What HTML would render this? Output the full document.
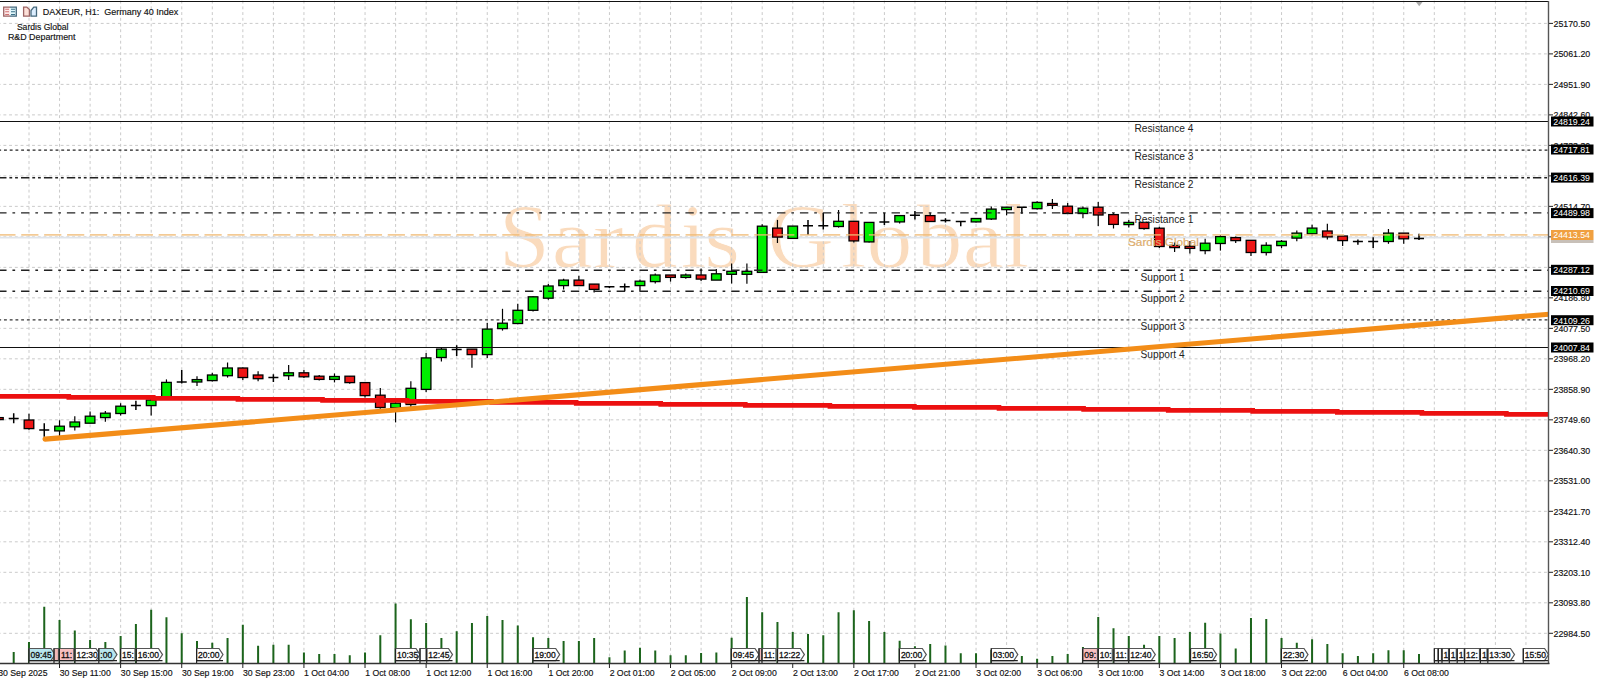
<!DOCTYPE html><html><head><meta charset="utf-8"><style>html,body{margin:0;padding:0;background:#fff;width:1600px;height:680px;overflow:hidden}svg{display:block}text{font-family:"Liberation Sans",sans-serif}</style></head><body>
<svg width="1600" height="680" viewBox="0 0 1600 680">
<rect width="1600" height="680" fill="#fff"/>
<g font-size="92" fill="#fadbbd" stroke="#fff" stroke-width="0.9" style="font-family:'Liberation Serif',serif"><text style="font-family:'Liberation Serif',serif" transform="translate(498.8 267.3) scale(1 1)">S</text><text style="font-family:'Liberation Serif',serif" transform="translate(551.8 267.3) scale(1 0.91)">a</text><text style="font-family:'Liberation Serif',serif" transform="translate(593 267.3) scale(1 0.91)">r</text><text style="font-family:'Liberation Serif',serif" transform="translate(631.7 267.3) scale(1 1)">d</text><text style="font-family:'Liberation Serif',serif" transform="translate(680.4 267.3) scale(1 1)">i</text><text style="font-family:'Liberation Serif',serif" transform="translate(704.2 267.3) scale(1 0.91)">s</text><text style="font-family:'Liberation Serif',serif" transform="translate(767.4 267.3) scale(1 1)">G</text><text style="font-family:'Liberation Serif',serif" transform="translate(840.8 267.3) scale(1 1)">l</text><text style="font-family:'Liberation Serif',serif" transform="translate(866.5 267.3) scale(1 0.91)">o</text><text style="font-family:'Liberation Serif',serif" transform="translate(916.5 267.3) scale(1 1)">b</text><text style="font-family:'Liberation Serif',serif" transform="translate(962.7 267.3) scale(1 0.91)">a</text><text style="font-family:'Liberation Serif',serif" transform="translate(1004 267.3) scale(1 1)">l</text></g>
<path d="M29.00 0.66V663M59.55 0.66V663M90.10 0.66V663M120.65 0.66V663M151.20 0.66V663M181.75 0.66V663M212.30 0.66V663M242.85 0.66V663M273.40 0.66V663M303.95 0.66V663M334.50 0.66V663M365.05 0.66V663M395.60 0.66V663M426.15 0.66V663M456.70 0.66V663M487.25 0.66V663M517.80 0.66V663M548.35 0.66V663M578.90 0.66V663M609.45 0.66V663M640.00 0.66V663M670.55 0.66V663M701.10 0.66V663M731.65 0.66V663M762.20 0.66V663M792.75 0.66V663M823.30 0.66V663M853.85 0.66V663M884.40 0.66V663M914.95 0.66V663M945.50 0.66V663M976.05 0.66V663M1006.60 0.66V663M1037.15 0.66V663M1067.70 0.66V663M1098.25 0.66V663M1128.80 0.66V663M1159.35 0.66V663M1189.90 0.66V663M1220.45 0.66V663M1251.00 0.66V663M1281.55 0.66V663M1312.10 0.66V663M1342.65 0.66V663M1373.20 0.66V663M1403.75 0.66V663M1434.30 0.66V663M1464.85 0.66V663M1495.40 0.66V663M1525.95 0.66V663" stroke="#cacaca" stroke-width="1" stroke-dasharray="2.9 2.827" fill="none"/>
<path d="M0 23.40H1548M0 53.89H1548M0 84.39H1548M0 114.88H1548M0 145.38H1548M0 175.88H1548M0 206.37H1548M0 236.87H1548M0 267.36H1548M0 297.85H1548M0 328.35H1548M0 358.84H1548M0 389.34H1548M0 419.83H1548M0 450.33H1548M0 480.82H1548M0 511.32H1548M0 541.81H1548M0 572.31H1548M0 602.80H1548M0 633.30H1548" stroke="#cacaca" stroke-width="1" stroke-dasharray="2.9 2.827" stroke-dashoffset="2.33" fill="none"/>
<path d="M0 237.6H1548" stroke="#dfe4ea" stroke-width="1.6" fill="none"/>
<path d="M-1.58 417.6V419.6" stroke="#000" stroke-width="1.2"/><rect x="-6.38" y="417.6" width="9.6" height="2.00" fill="#ee1616" stroke="#000" stroke-width="1.3"/><path d="M13.70 413.2V423.2M8.70 418.5H18.70" stroke="#000" stroke-width="1.5" fill="none"/><path d="M28.98 413.8V429.7" stroke="#000" stroke-width="1.2"/><rect x="24.18" y="420.0" width="9.6" height="8.60" fill="#ee1616" stroke="#000" stroke-width="1.3"/><path d="M44.25 423.2V436.8M39.25 430.0H49.25" stroke="#000" stroke-width="1.5" fill="none"/><path d="M59.53 420.3V436.0" stroke="#000" stroke-width="1.2"/><rect x="54.73" y="426.2" width="9.6" height="4.70" fill="#00ee00" stroke="#000" stroke-width="1.3"/><path d="M74.80 416.2V430.6" stroke="#000" stroke-width="1.2"/><rect x="70.00" y="422.0" width="9.6" height="4.80" fill="#00ee00" stroke="#000" stroke-width="1.3"/><path d="M90.08 411.5V423.2" stroke="#000" stroke-width="1.2"/><rect x="85.28" y="416.2" width="9.6" height="7.00" fill="#00ee00" stroke="#000" stroke-width="1.3"/><path d="M105.35 411.0V421.8" stroke="#000" stroke-width="1.2"/><rect x="100.55" y="413.2" width="9.6" height="4.40" fill="#00ee00" stroke="#000" stroke-width="1.3"/><path d="M120.62 403.2V415.4" stroke="#000" stroke-width="1.2"/><rect x="115.83" y="406.2" width="9.6" height="7.30" fill="#00ee00" stroke="#000" stroke-width="1.3"/><path d="M135.90 400.7V410.0M130.90 405.6H140.90" stroke="#000" stroke-width="1.5" fill="none"/><path d="M151.17 399.0V415.4" stroke="#000" stroke-width="1.2"/><rect x="146.37" y="400.0" width="9.6" height="5.60" fill="#00ee00" stroke="#000" stroke-width="1.3"/><path d="M166.45 379.4V397.0" stroke="#000" stroke-width="1.2"/><rect x="161.65" y="382.4" width="9.6" height="14.60" fill="#00ee00" stroke="#000" stroke-width="1.3"/><path d="M181.72 369.9V383.5M176.72 382.0H186.72" stroke="#000" stroke-width="1.5" fill="none"/><path d="M197.00 376.2V386.0" stroke="#000" stroke-width="1.2"/><rect x="192.20" y="379.6" width="9.6" height="2.40" fill="#00ee00" stroke="#000" stroke-width="1.3"/><path d="M212.28 372.8V381.6" stroke="#000" stroke-width="1.2"/><rect x="207.47" y="375.0" width="9.6" height="5.60" fill="#00ee00" stroke="#000" stroke-width="1.3"/><path d="M227.55 362.5V377.6" stroke="#000" stroke-width="1.2"/><rect x="222.75" y="368.0" width="9.6" height="7.70" fill="#00ee00" stroke="#000" stroke-width="1.3"/><path d="M242.82 367.4V380.1" stroke="#000" stroke-width="1.2"/><rect x="238.02" y="368.0" width="9.6" height="9.50" fill="#ee1616" stroke="#000" stroke-width="1.3"/><path d="M258.10 371.3V381.2" stroke="#000" stroke-width="1.2"/><rect x="253.30" y="375.0" width="9.6" height="3.70" fill="#ee1616" stroke="#000" stroke-width="1.3"/><path d="M273.38 374.3V382.0M268.38 377.6H278.38" stroke="#000" stroke-width="1.5" fill="none"/><path d="M288.65 365.0V380.1" stroke="#000" stroke-width="1.2"/><rect x="283.85" y="372.8" width="9.6" height="2.90" fill="#00ee00" stroke="#000" stroke-width="1.3"/><path d="M303.93 369.9V378.0" stroke="#000" stroke-width="1.2"/><rect x="299.12" y="372.8" width="9.6" height="4.00" fill="#ee1616" stroke="#000" stroke-width="1.3"/><path d="M319.20 375.0V380.6" stroke="#000" stroke-width="1.2"/><rect x="314.40" y="376.2" width="9.6" height="3.20" fill="#ee1616" stroke="#000" stroke-width="1.3"/><path d="M334.48 373.5V382.4" stroke="#000" stroke-width="1.2"/><rect x="329.68" y="376.5" width="9.6" height="2.90" fill="#00ee00" stroke="#000" stroke-width="1.3"/><path d="M349.75 376.0V383.8" stroke="#000" stroke-width="1.2"/><rect x="344.95" y="376.2" width="9.6" height="6.40" fill="#ee1616" stroke="#000" stroke-width="1.3"/><path d="M365.02 382.6V397.4" stroke="#000" stroke-width="1.2"/><rect x="360.22" y="382.6" width="9.6" height="13.00" fill="#ee1616" stroke="#000" stroke-width="1.3"/><path d="M380.30 388.0V408.8" stroke="#000" stroke-width="1.2"/><rect x="375.50" y="395.2" width="9.6" height="12.30" fill="#ee1616" stroke="#000" stroke-width="1.3"/><path d="M395.57 400.0V422.4" stroke="#000" stroke-width="1.2"/><rect x="390.77" y="403.2" width="9.6" height="4.60" fill="#00ee00" stroke="#000" stroke-width="1.3"/><path d="M410.85 381.3V411.1" stroke="#000" stroke-width="1.2"/><rect x="406.05" y="388.3" width="9.6" height="16.20" fill="#00ee00" stroke="#000" stroke-width="1.3"/><path d="M426.12 353.0V392.0" stroke="#000" stroke-width="1.2"/><rect x="421.32" y="357.9" width="9.6" height="31.50" fill="#00ee00" stroke="#000" stroke-width="1.3"/><path d="M441.40 347.6V361.5" stroke="#000" stroke-width="1.2"/><rect x="436.60" y="349.1" width="9.6" height="8.40" fill="#00ee00" stroke="#000" stroke-width="1.3"/><path d="M456.68 345.3V356.0M451.68 349.4H461.68" stroke="#000" stroke-width="1.5" fill="none"/><path d="M471.95 349.0V367.8" stroke="#000" stroke-width="1.2"/><rect x="467.15" y="349.1" width="9.6" height="5.50" fill="#ee1616" stroke="#000" stroke-width="1.3"/><path d="M487.23 323.0V358.0" stroke="#000" stroke-width="1.2"/><rect x="482.43" y="329.1" width="9.6" height="25.50" fill="#00ee00" stroke="#000" stroke-width="1.3"/><path d="M502.50 308.8V330.6" stroke="#000" stroke-width="1.2"/><rect x="497.70" y="323.2" width="9.6" height="5.40" fill="#00ee00" stroke="#000" stroke-width="1.3"/><path d="M517.77 303.7V324.3" stroke="#000" stroke-width="1.2"/><rect x="512.98" y="310.3" width="9.6" height="13.20" fill="#00ee00" stroke="#000" stroke-width="1.3"/><path d="M533.05 296.3V311.5" stroke="#000" stroke-width="1.2"/><rect x="528.25" y="296.8" width="9.6" height="13.50" fill="#00ee00" stroke="#000" stroke-width="1.3"/><path d="M548.33 284.1V299.7" stroke="#000" stroke-width="1.2"/><rect x="543.53" y="286.0" width="9.6" height="12.20" fill="#00ee00" stroke="#000" stroke-width="1.3"/><path d="M563.60 278.7V289.4" stroke="#000" stroke-width="1.2"/><rect x="558.80" y="280.1" width="9.6" height="5.50" fill="#00ee00" stroke="#000" stroke-width="1.3"/><path d="M578.88 275.7V286.0" stroke="#000" stroke-width="1.2"/><rect x="574.08" y="280.1" width="9.6" height="5.50" fill="#ee1616" stroke="#000" stroke-width="1.3"/><path d="M594.15 284.0V292.6" stroke="#000" stroke-width="1.2"/><rect x="589.35" y="284.1" width="9.6" height="5.30" fill="#ee1616" stroke="#000" stroke-width="1.3"/><path d="M609.43 286.0V288.0M604.43 286.8H614.43" stroke="#000" stroke-width="1.5" fill="none"/><path d="M624.70 283.5V291.2M619.70 286.8H629.70" stroke="#000" stroke-width="1.5" fill="none"/><path d="M639.98 279.4V291.5" stroke="#000" stroke-width="1.2"/><rect x="635.18" y="281.2" width="9.6" height="4.40" fill="#00ee00" stroke="#000" stroke-width="1.3"/><path d="M655.25 273.5V283.5" stroke="#000" stroke-width="1.2"/><rect x="650.45" y="275.0" width="9.6" height="6.60" fill="#00ee00" stroke="#000" stroke-width="1.3"/><path d="M670.53 275.0V281.6" stroke="#000" stroke-width="1.2"/><rect x="665.73" y="275.0" width="9.6" height="2.40" fill="#ee1616" stroke="#000" stroke-width="1.3"/><path d="M685.80 273.5V278.7" stroke="#000" stroke-width="1.2"/><rect x="681.00" y="275.0" width="9.6" height="2.40" fill="#00ee00" stroke="#000" stroke-width="1.3"/><path d="M701.08 268.4V280.9" stroke="#000" stroke-width="1.2"/><rect x="696.28" y="275.0" width="9.6" height="4.10" fill="#ee1616" stroke="#000" stroke-width="1.3"/><path d="M716.35 269.1V280.1" stroke="#000" stroke-width="1.2"/><rect x="711.55" y="273.8" width="9.6" height="6.30" fill="#00ee00" stroke="#000" stroke-width="1.3"/><path d="M731.63 263.5V283.5" stroke="#000" stroke-width="1.2"/><rect x="726.83" y="271.3" width="9.6" height="3.00" fill="#00ee00" stroke="#000" stroke-width="1.3"/><path d="M746.90 263.5V283.8" stroke="#000" stroke-width="1.2"/><rect x="742.10" y="271.3" width="9.6" height="3.00" fill="#00ee00" stroke="#000" stroke-width="1.3"/><path d="M762.18 224.3V272.4" stroke="#000" stroke-width="1.2"/><rect x="757.38" y="226.2" width="9.6" height="46.20" fill="#00ee00" stroke="#000" stroke-width="1.3"/><path d="M777.45 219.9V243.0" stroke="#000" stroke-width="1.2"/><rect x="772.65" y="228.1" width="9.6" height="9.00" fill="#ee1616" stroke="#000" stroke-width="1.3"/><path d="M792.73 226.0V238.5" stroke="#000" stroke-width="1.2"/><rect x="787.93" y="226.1" width="9.6" height="12.30" fill="#00ee00" stroke="#000" stroke-width="1.3"/><path d="M808.00 219.9V235.0M803.00 225.7H813.00" stroke="#000" stroke-width="1.5" fill="none"/><path d="M823.28 212.9V229.4M818.28 225.7H828.28" stroke="#000" stroke-width="1.5" fill="none"/><path d="M838.55 210.0V227.6" stroke="#000" stroke-width="1.2"/><rect x="833.75" y="221.3" width="9.6" height="5.20" fill="#00ee00" stroke="#000" stroke-width="1.3"/><path d="M853.83 221.0V242.6" stroke="#000" stroke-width="1.2"/><rect x="849.03" y="221.3" width="9.6" height="19.60" fill="#ee1616" stroke="#000" stroke-width="1.3"/><path d="M869.10 222.0V242.6" stroke="#000" stroke-width="1.2"/><rect x="864.30" y="222.4" width="9.6" height="19.50" fill="#00ee00" stroke="#000" stroke-width="1.3"/><path d="M884.38 213.1V225.0M879.38 221.9H889.38" stroke="#000" stroke-width="1.5" fill="none"/><path d="M899.65 215.0V223.4" stroke="#000" stroke-width="1.2"/><rect x="894.85" y="215.6" width="9.6" height="6.30" fill="#00ee00" stroke="#000" stroke-width="1.3"/><path d="M914.93 210.9V219.4M909.93 215.3H919.93" stroke="#000" stroke-width="1.5" fill="none"/><path d="M930.20 213.1V221.5" stroke="#000" stroke-width="1.2"/><rect x="925.40" y="215.6" width="9.6" height="5.90" fill="#ee1616" stroke="#000" stroke-width="1.3"/><path d="M945.48 218.2V222.6M940.48 220.4H950.48" stroke="#000" stroke-width="1.5" fill="none"/><path d="M960.75 221.6V226.3M955.75 221.6H965.75" stroke="#000" stroke-width="1.5" fill="none"/><path d="M976.03 218.0V222.6" stroke="#000" stroke-width="1.2"/><rect x="971.23" y="218.5" width="9.6" height="3.40" fill="#00ee00" stroke="#000" stroke-width="1.3"/><path d="M991.30 206.5V220.0" stroke="#000" stroke-width="1.2"/><rect x="986.50" y="209.1" width="9.6" height="9.90" fill="#00ee00" stroke="#000" stroke-width="1.3"/><path d="M1006.58 207.0V215.3" stroke="#000" stroke-width="1.2"/><rect x="1001.78" y="207.2" width="9.6" height="2.40" fill="#00ee00" stroke="#000" stroke-width="1.3"/><path d="M1021.85 207.0V213.8M1016.85 207.2H1026.85" stroke="#000" stroke-width="1.5" fill="none"/><path d="M1037.12 201.3V209.4" stroke="#000" stroke-width="1.2"/><rect x="1032.33" y="202.4" width="9.6" height="6.30" fill="#00ee00" stroke="#000" stroke-width="1.3"/><path d="M1052.40 199.1V209.1" stroke="#000" stroke-width="1.2"/><rect x="1047.60" y="203.5" width="9.6" height="1.80" fill="#ee1616" stroke="#000" stroke-width="1.3"/><path d="M1067.68 203.0V213.5" stroke="#000" stroke-width="1.2"/><rect x="1062.88" y="206.2" width="9.6" height="7.30" fill="#ee1616" stroke="#000" stroke-width="1.3"/><path d="M1082.95 206.5V218.2" stroke="#000" stroke-width="1.2"/><rect x="1078.15" y="208.2" width="9.6" height="5.30" fill="#00ee00" stroke="#000" stroke-width="1.3"/><path d="M1098.23 202.0V225.9" stroke="#000" stroke-width="1.2"/><rect x="1093.43" y="207.2" width="9.6" height="7.80" fill="#ee1616" stroke="#000" stroke-width="1.3"/><path d="M1113.50 213.1V228.5" stroke="#000" stroke-width="1.2"/><rect x="1108.70" y="214.6" width="9.6" height="9.80" fill="#ee1616" stroke="#000" stroke-width="1.3"/><path d="M1128.78 220.0V227.4" stroke="#000" stroke-width="1.2"/><rect x="1123.98" y="222.4" width="9.6" height="2.20" fill="#00ee00" stroke="#000" stroke-width="1.3"/><path d="M1144.05 222.0V229.7" stroke="#000" stroke-width="1.2"/><rect x="1139.25" y="222.4" width="9.6" height="6.10" fill="#ee1616" stroke="#000" stroke-width="1.3"/><path d="M1159.33 226.8V247.9" stroke="#000" stroke-width="1.2"/><rect x="1154.53" y="228.2" width="9.6" height="18.30" fill="#ee1616" stroke="#000" stroke-width="1.3"/><path d="M1174.60 242.5V252.1" stroke="#000" stroke-width="1.2"/><rect x="1169.80" y="245.4" width="9.6" height="2.20" fill="#ee1616" stroke="#000" stroke-width="1.3"/><path d="M1189.88 241.0V253.5" stroke="#000" stroke-width="1.2"/><rect x="1185.08" y="246.2" width="9.6" height="2.20" fill="#ee1616" stroke="#000" stroke-width="1.3"/><path d="M1205.15 238.8V254.3" stroke="#000" stroke-width="1.2"/><rect x="1200.35" y="243.2" width="9.6" height="7.40" fill="#00ee00" stroke="#000" stroke-width="1.3"/><path d="M1220.43 235.1V250.6" stroke="#000" stroke-width="1.2"/><rect x="1215.63" y="236.6" width="9.6" height="6.90" fill="#00ee00" stroke="#000" stroke-width="1.3"/><path d="M1235.70 236.6V243.0" stroke="#000" stroke-width="1.2"/><rect x="1230.90" y="237.6" width="9.6" height="3.00" fill="#ee1616" stroke="#000" stroke-width="1.3"/><path d="M1250.98 240.0V256.0" stroke="#000" stroke-width="1.2"/><rect x="1246.18" y="240.3" width="9.6" height="12.20" fill="#ee1616" stroke="#000" stroke-width="1.3"/><path d="M1266.25 242.3V255.6" stroke="#000" stroke-width="1.2"/><rect x="1261.45" y="245.3" width="9.6" height="7.20" fill="#00ee00" stroke="#000" stroke-width="1.3"/><path d="M1281.53 240.0V248.1" stroke="#000" stroke-width="1.2"/><rect x="1276.73" y="241.3" width="9.6" height="4.30" fill="#00ee00" stroke="#000" stroke-width="1.3"/><path d="M1296.80 230.6V241.3" stroke="#000" stroke-width="1.2"/><rect x="1292.00" y="233.1" width="9.6" height="5.00" fill="#00ee00" stroke="#000" stroke-width="1.3"/><path d="M1312.08 224.8V235.6" stroke="#000" stroke-width="1.2"/><rect x="1307.28" y="228.1" width="9.6" height="5.70" fill="#00ee00" stroke="#000" stroke-width="1.3"/><path d="M1327.35 223.8V239.4" stroke="#000" stroke-width="1.2"/><rect x="1322.55" y="231.0" width="9.6" height="5.90" fill="#ee1616" stroke="#000" stroke-width="1.3"/><path d="M1342.62 236.0V246.0" stroke="#000" stroke-width="1.2"/><rect x="1337.83" y="236.0" width="9.6" height="4.60" fill="#ee1616" stroke="#000" stroke-width="1.3"/><path d="M1357.90 239.4V244.8M1352.90 241.5H1362.90" stroke="#000" stroke-width="1.5" fill="none"/><path d="M1373.18 237.3V248.1M1368.18 241.5H1378.18" stroke="#000" stroke-width="1.5" fill="none"/><path d="M1388.45 229.0V243.8" stroke="#000" stroke-width="1.2"/><rect x="1383.65" y="233.1" width="9.6" height="8.40" fill="#00ee00" stroke="#000" stroke-width="1.3"/><path d="M1403.73 233.0V243.8" stroke="#000" stroke-width="1.2"/><rect x="1398.93" y="233.1" width="9.6" height="5.70" fill="#ee1616" stroke="#000" stroke-width="1.3"/><path d="M1419.00 233.8V240.0M1414.00 238.5H1424.00" stroke="#000" stroke-width="1.5" fill="none"/>
<path d="M13.70 652V663.5M28.98 641.9V663.5M44.25 606.7V663.5M59.53 620V663.5M74.80 630.6V663.5M90.08 640V663.5M105.35 641.9V663.5M120.62 636V663.5M135.90 623.9V663.5M151.17 609.8V663.5M166.45 617.2V663.5M181.72 633.3V663.5M197.00 641.1V663.5M212.28 642.7V663.5M227.55 638V663.5M242.82 624.7V663.5M258.10 645.8V663.5M273.38 644.7V663.5M288.65 644.7V663.5M303.93 652.5V663.5M319.20 654V663.5M334.48 654V663.5M349.75 655.2V663.5M365.02 652.5V663.5M380.30 635.3V663.5M395.57 603.6V663.5M410.85 619.2V663.5M426.12 623.1V663.5M441.40 638V663.5M456.68 631.25V663.5M471.95 623.1V663.5M487.23 616.1V663.5M502.50 620V663.5M517.77 625.5V663.5M533.05 637.2V663.5M548.33 638V663.5M563.60 641.1V663.5M578.88 641.1V663.5M594.15 638V663.5M609.43 657.2V663.5M624.70 650.5V663.5M639.98 647.8V663.5M655.25 650.5V663.5M670.53 655.2V663.5M685.80 655.2V663.5M701.08 653.1V663.5M716.35 652.5V663.5M731.63 637.7V663.5M746.90 597V663.5M762.18 612.2V663.5M777.45 622V663.5M792.73 631.9V663.5M808.00 634.1V663.5M823.28 635.3V663.5M838.55 612.2V663.5M853.83 610.3V663.5M869.10 621V663.5M884.38 631.9V663.5M899.65 640.8V663.5M914.93 646.25V663.5M930.20 643.9V663.5M945.48 645.5V663.5M960.75 653.3V663.5M976.03 653.3V663.5M991.30 650V663.5M1006.58 658V663.5M1021.85 656V663.5M1037.12 658.75V663.5M1052.40 656V663.5M1067.68 654V663.5M1082.95 647V663.5M1098.23 616.9V663.5M1113.50 628.3V663.5M1128.78 636.1V663.5M1144.05 644.7V663.5M1159.33 636.1V663.5M1174.60 638.1V663.5M1189.88 631.9V663.5M1205.15 622.8V663.5M1220.43 633.4V663.5M1235.70 648.6V663.5M1250.98 618.1V663.5M1266.25 618.9V663.5M1281.53 638.1V663.5M1296.80 642.8V663.5M1312.08 639.2V663.5M1327.35 643.9V663.5M1342.62 653.3V663.5M1357.90 656V663.5M1373.18 653.3V663.5M1388.45 650.2V663.5M1403.73 650.2V663.5M1419.00 654V663.5" stroke="#1c641c" stroke-width="2" fill="none"/>
<path d="M0 234.8H1548" stroke="#efb872" stroke-width="1.7" stroke-opacity="0.75" stroke-dasharray="17.18 5.728" stroke-dashoffset="1.66" fill="none"/>
<path d="M0 121.5H1548" stroke="#111" stroke-width="1"/>
<path d="M0 150.1H1548" stroke="#222" stroke-width="1.4" stroke-dasharray="2.86 2.867" stroke-dashoffset="1.73"/>
<path d="M0 177.8H1548" stroke="#222" stroke-width="1.4" stroke-dasharray="8.4 2.9 2.8 2.9 2.8 3.108" stroke-dashoffset="1.9"/>
<path d="M0 212.9H1548" stroke="#222" stroke-width="1.4" stroke-dasharray="8.4 5.9 2.7 5.908" stroke-dashoffset="1.86"/>
<path d="M0 270.3H1548" stroke="#222" stroke-width="1.4" stroke-dasharray="8.4 5.9 2.7 5.908" stroke-dashoffset="1.86"/>
<path d="M0 291.3H1548" stroke="#222" stroke-width="1.4" stroke-dasharray="8.4 5.9 2.7 5.908" stroke-dashoffset="1.86"/>
<path d="M0 319.9H1548" stroke="#333" stroke-width="1.4" stroke-dasharray="2.86 2.867" stroke-dashoffset="1.73"/>
<path d="M0 347.5H1548" stroke="#111" stroke-width="1"/>
<text x="1134.5" y="131.8" font-size="10.2" fill="#222">Resistance 4</text>
<text x="1134.5" y="160.3" font-size="10.2" fill="#222">Resistance 3</text>
<text x="1134.5" y="188.1" font-size="10.2" fill="#222">Resistance 2</text>
<text x="1134.5" y="223.3" font-size="10.2" fill="#222">Resistance 1</text>
<text x="1140.5" y="281" font-size="10.2" fill="#222">Support 1</text>
<text x="1140.5" y="301.7" font-size="10.2" fill="#222">Support 2</text>
<text x="1140.5" y="329.5" font-size="10.2" fill="#222">Support 3</text>
<text x="1140.5" y="357.5" font-size="10.2" fill="#222">Support 4</text>
<path d="M0 396.4H68.8V397.4H153.3V398.4H237.9V399.4H322.5V400.4H407.0V401.4H491.6V402.4H576.2V403.4H660.7V404.4H745.3V405.4H829.9V406.4H914.4V407.4H999.0V408.4H1083.6V409.4H1168.2V410.4H1252.7V411.4H1337.3V412.4H1421.9V413.4H1506.4V414.4H1548" stroke="#ec1010" stroke-width="4.6" fill="none"/>
<defs><clipPath id="ca"><rect x="0" y="0" width="1548.3" height="663"/></clipPath></defs>
<path clip-path="url(#ca)" d="M45 439.1L1560 313.3" stroke="#f38d18" stroke-width="5.1" stroke-linecap="round" fill="none"/>
<text x="1128" y="245.6" font-size="11.8" fill="#dcac6c" stroke="#dcac6c" stroke-width="0.2">Sardis Global</text>
<rect x="29" y="660.6" width="22.00" height="2.40" fill="#fff"/><path d="M29 648.5H51L55 654.55L51 660.6H29Z" fill="#b8e6ee" stroke="#555" stroke-width="1.2"/><path d="M29 660.6H55M29 648.5V663.5" stroke="#222" stroke-width="1.2" fill="none"/><text x="30.5" y="658.0" font-size="8.5" fill="#111" stroke="#111" stroke-width="0.3">09:45</text>
<rect x="54" y="660.6" width="4.50" height="2.40" fill="#fff"/><path d="M54 648.5H58.5V660.6H54Z" fill="#f4b8b8" stroke="#555" stroke-width="1.2"/><path d="M54 660.6H58.5M54 648.5V663.5" stroke="#222" stroke-width="1.2" fill="none"/>
<rect x="59.4" y="660.6" width="14.40" height="2.40" fill="#fff"/><path d="M59.4 648.5H73.8V660.6H59.4Z" fill="#f8c0c0" stroke="#555" stroke-width="1.2"/><path d="M59.4 660.6H73.8M59.4 648.5V663.5" stroke="#222" stroke-width="1.2" fill="none"/><text x="60.9" y="658.0" font-size="8.5" fill="#111" stroke="#111" stroke-width="0.3">11:</text>
<rect x="75" y="660.6" width="21.00" height="2.40" fill="#fff"/><path d="M75 648.5H96L100 654.55L96 660.6H75Z" fill="#fff" stroke="#555" stroke-width="1.2"/><path d="M75 660.6H100M75 648.5V663.5" stroke="#222" stroke-width="1.2" fill="none"/><text x="76.5" y="658.0" font-size="8.5" fill="#111" stroke="#111" stroke-width="0.3">12:30</text>
<rect x="98.8" y="660.6" width="14.20" height="2.40" fill="#fff"/><path d="M98.8 648.5H113L117 654.55L113 660.6H98.8Z" fill="#b8e6ee" stroke="#555" stroke-width="1.2"/><path d="M98.8 660.6H117M98.8 648.5V663.5" stroke="#222" stroke-width="1.2" fill="none"/><text x="100.3" y="658.0" font-size="8.5" fill="#111" stroke="#111" stroke-width="0.3">:00</text>
<rect x="120.6" y="660.6" width="14.40" height="2.40" fill="#fff"/><path d="M120.6 648.5H135V660.6H120.6Z" fill="#fff" stroke="#555" stroke-width="1.2"/><path d="M120.6 660.6H135M120.6 648.5V663.5" stroke="#222" stroke-width="1.2" fill="none"/><text x="122.1" y="658.0" font-size="8.5" fill="#111" stroke="#111" stroke-width="0.3">15:</text>
<rect x="136.3" y="660.6" width="22.20" height="2.40" fill="#fff"/><path d="M136.3 648.5H158.5L162.5 654.55L158.5 660.6H136.3Z" fill="#fff" stroke="#555" stroke-width="1.2"/><path d="M136.3 660.6H162.5M136.3 648.5V663.5" stroke="#222" stroke-width="1.2" fill="none"/><text x="137.8" y="658.0" font-size="8.5" fill="#111" stroke="#111" stroke-width="0.3">16:00</text>
<rect x="196.6" y="660.6" width="22.40" height="2.40" fill="#fff"/><path d="M196.6 648.5H219L223 654.55L219 660.6H196.6Z" fill="#fff" stroke="#555" stroke-width="1.2"/><path d="M196.6 660.6H223M196.6 648.5V663.5" stroke="#222" stroke-width="1.2" fill="none"/><text x="198.1" y="658.0" font-size="8.5" fill="#111" stroke="#111" stroke-width="0.3">20:00</text>
<rect x="395.5" y="660.6" width="20.50" height="2.40" fill="#fff"/><path d="M395.5 648.5H416L420 654.55L416 660.6H395.5Z" fill="#fff" stroke="#555" stroke-width="1.2"/><path d="M395.5 660.6H420M395.5 648.5V663.5" stroke="#222" stroke-width="1.2" fill="none"/><text x="397.0" y="658.0" font-size="8.5" fill="#111" stroke="#111" stroke-width="0.3">10:35</text>
<rect x="420" y="660.6" width="6.00" height="2.40" fill="#fff"/><path d="M420 648.5H426V660.6H420Z" fill="#fff" stroke="#555" stroke-width="1.2"/><path d="M420 660.6H426M420 648.5V663.5" stroke="#222" stroke-width="1.2" fill="none"/>
<rect x="426.7" y="660.6" width="21.80" height="2.40" fill="#fff"/><path d="M426.7 648.5H448.5L452.5 654.55L448.5 660.6H426.7Z" fill="#fff" stroke="#555" stroke-width="1.2"/><path d="M426.7 660.6H452.5M426.7 648.5V663.5" stroke="#222" stroke-width="1.2" fill="none"/><text x="428.2" y="658.0" font-size="8.5" fill="#111" stroke="#111" stroke-width="0.3">12:45</text>
<rect x="533" y="660.6" width="22.70" height="2.40" fill="#fff"/><path d="M533 648.5H555.7L559.7 654.55L555.7 660.6H533Z" fill="#fff" stroke="#555" stroke-width="1.2"/><path d="M533 660.6H559.7M533 648.5V663.5" stroke="#222" stroke-width="1.2" fill="none"/><text x="534.5" y="658.0" font-size="8.5" fill="#111" stroke="#111" stroke-width="0.3">19:00</text>
<rect x="731.3" y="660.6" width="23.70" height="2.40" fill="#fff"/><path d="M731.3 648.5H755L759 654.55L755 660.6H731.3Z" fill="#fff" stroke="#555" stroke-width="1.2"/><path d="M731.3 660.6H759M731.3 648.5V663.5" stroke="#222" stroke-width="1.2" fill="none"/><text x="732.8" y="658.0" font-size="8.5" fill="#111" stroke="#111" stroke-width="0.3">09:45</text>
<rect x="759" y="660.6" width="3.00" height="2.40" fill="#fff"/><path d="M759 648.5H762V660.6H759Z" fill="#f4b8b8" stroke="#555" stroke-width="1.2"/><path d="M759 660.6H762M759 648.5V663.5" stroke="#222" stroke-width="1.2" fill="none"/>
<rect x="762" y="660.6" width="14.00" height="2.40" fill="#fff"/><path d="M762 648.5H776V660.6H762Z" fill="#fff" stroke="#555" stroke-width="1.2"/><path d="M762 660.6H776M762 648.5V663.5" stroke="#222" stroke-width="1.2" fill="none"/><text x="763.5" y="658.0" font-size="8.5" fill="#111" stroke="#111" stroke-width="0.3">11:</text>
<rect x="777.5" y="660.6" width="22.90" height="2.40" fill="#fff"/><path d="M777.5 648.5H800.4L804.4 654.55L800.4 660.6H777.5Z" fill="#fff" stroke="#555" stroke-width="1.2"/><path d="M777.5 660.6H804.4M777.5 648.5V663.5" stroke="#222" stroke-width="1.2" fill="none"/><text x="779.0" y="658.0" font-size="8.5" fill="#111" stroke="#111" stroke-width="0.3">12:22</text>
<rect x="899.4" y="660.6" width="22.90" height="2.40" fill="#fff"/><path d="M899.4 648.5H922.3L926.3 654.55L922.3 660.6H899.4Z" fill="#fff" stroke="#555" stroke-width="1.2"/><path d="M899.4 660.6H926.3M899.4 648.5V663.5" stroke="#222" stroke-width="1.2" fill="none"/><text x="900.9" y="658.0" font-size="8.5" fill="#111" stroke="#111" stroke-width="0.3">20:00</text>
<rect x="991.3" y="660.6" width="22.50" height="2.40" fill="#fff"/><path d="M991.3 648.5H1013.8L1017.8 654.55L1013.8 660.6H991.3Z" fill="#fff" stroke="#555" stroke-width="1.2"/><path d="M991.3 660.6H1017.8M991.3 648.5V663.5" stroke="#222" stroke-width="1.2" fill="none"/><text x="992.8" y="658.0" font-size="8.5" fill="#111" stroke="#111" stroke-width="0.3">03:00</text>
<rect x="1082.7" y="660.6" width="14.80" height="2.40" fill="#fff"/><path d="M1082.7 648.5H1097.5V660.6H1082.7Z" fill="#f8c0c0" stroke="#555" stroke-width="1.2"/><path d="M1082.7 660.6H1097.5M1082.7 648.5V663.5" stroke="#222" stroke-width="1.2" fill="none"/><text x="1084.2" y="658.0" font-size="8.5" fill="#111" stroke="#111" stroke-width="0.3">09:</text>
<rect x="1098.3" y="660.6" width="14.00" height="2.40" fill="#fff"/><path d="M1098.3 648.5H1112.3V660.6H1098.3Z" fill="#fff" stroke="#555" stroke-width="1.2"/><path d="M1098.3 660.6H1112.3M1098.3 648.5V663.5" stroke="#222" stroke-width="1.2" fill="none"/><text x="1099.8" y="658.0" font-size="8.5" fill="#111" stroke="#111" stroke-width="0.3">10:</text>
<rect x="1113.9" y="660.6" width="14.10" height="2.40" fill="#fff"/><path d="M1113.9 648.5H1128V660.6H1113.9Z" fill="#fff" stroke="#555" stroke-width="1.2"/><path d="M1113.9 660.6H1128M1113.9 648.5V663.5" stroke="#222" stroke-width="1.2" fill="none"/><text x="1115.4" y="658.0" font-size="8.5" fill="#111" stroke="#111" stroke-width="0.3">11:</text>
<rect x="1128.8" y="660.6" width="22.50" height="2.40" fill="#fff"/><path d="M1128.8 648.5H1151.3L1155.3 654.55L1151.3 660.6H1128.8Z" fill="#fff" stroke="#555" stroke-width="1.2"/><path d="M1128.8 660.6H1155.3M1128.8 648.5V663.5" stroke="#222" stroke-width="1.2" fill="none"/><text x="1130.3" y="658.0" font-size="8.5" fill="#111" stroke="#111" stroke-width="0.3">12:40</text>
<rect x="1190.5" y="660.6" width="22.10" height="2.40" fill="#fff"/><path d="M1190.5 648.5H1212.6L1216.6 654.55L1212.6 660.6H1190.5Z" fill="#fff" stroke="#555" stroke-width="1.2"/><path d="M1190.5 660.6H1216.6M1190.5 648.5V663.5" stroke="#222" stroke-width="1.2" fill="none"/><text x="1192.0" y="658.0" font-size="8.5" fill="#111" stroke="#111" stroke-width="0.3">16:50</text>
<rect x="1281.4" y="660.6" width="22.60" height="2.40" fill="#fff"/><path d="M1281.4 648.5H1304L1308 654.55L1304 660.6H1281.4Z" fill="#fff" stroke="#555" stroke-width="1.2"/><path d="M1281.4 660.6H1308M1281.4 648.5V663.5" stroke="#222" stroke-width="1.2" fill="none"/><text x="1282.9" y="658.0" font-size="8.5" fill="#111" stroke="#111" stroke-width="0.3">22:30</text>
<rect x="1434.4" y="660.6" width="3.60" height="2.40" fill="#fff"/><path d="M1434.4 648.5H1438V660.6H1434.4Z" fill="#fff" stroke="#555" stroke-width="1.2"/><path d="M1434.4 660.6H1438M1434.4 648.5V663.5" stroke="#222" stroke-width="1.2" fill="none"/>
<rect x="1438.4" y="660.6" width="3.10" height="2.40" fill="#fff"/><path d="M1438.4 648.5H1441.5V660.6H1438.4Z" fill="#fff" stroke="#555" stroke-width="1.2"/><path d="M1438.4 660.6H1441.5M1438.4 648.5V663.5" stroke="#222" stroke-width="1.2" fill="none"/>
<rect x="1442" y="660.6" width="6.50" height="2.40" fill="#fff"/><path d="M1442 648.5H1448.5V660.6H1442Z" fill="#fff" stroke="#555" stroke-width="1.2"/><path d="M1442 660.6H1448.5M1442 648.5V663.5" stroke="#222" stroke-width="1.2" fill="none"/><text x="1443.5" y="658.0" font-size="8.5" fill="#111" stroke="#111" stroke-width="0.3">1</text>
<rect x="1449.3" y="660.6" width="7.00" height="2.40" fill="#fff"/><path d="M1449.3 648.5H1456.3V660.6H1449.3Z" fill="#fff" stroke="#555" stroke-width="1.2"/><path d="M1449.3 660.6H1456.3M1449.3 648.5V663.5" stroke="#222" stroke-width="1.2" fill="none"/><text x="1450.8" y="658.0" font-size="8.5" fill="#111" stroke="#111" stroke-width="0.3">1</text>
<rect x="1457.2" y="660.6" width="7.00" height="2.40" fill="#fff"/><path d="M1457.2 648.5H1464.2V660.6H1457.2Z" fill="#fff" stroke="#555" stroke-width="1.2"/><path d="M1457.2 660.6H1464.2M1457.2 648.5V663.5" stroke="#222" stroke-width="1.2" fill="none"/><text x="1458.7" y="658.0" font-size="8.5" fill="#111" stroke="#111" stroke-width="0.3">1</text>
<rect x="1464.6" y="660.6" width="14.90" height="2.40" fill="#fff"/><path d="M1464.6 648.5H1479.5V660.6H1464.6Z" fill="#fff" stroke="#555" stroke-width="1.2"/><path d="M1464.6 660.6H1479.5M1464.6 648.5V663.5" stroke="#222" stroke-width="1.2" fill="none"/><text x="1466.1" y="658.0" font-size="8.5" fill="#111" stroke="#111" stroke-width="0.3">12:</text>
<rect x="1480.4" y="660.6" width="6.60" height="2.40" fill="#fff"/><path d="M1480.4 648.5H1487V660.6H1480.4Z" fill="#fff" stroke="#555" stroke-width="1.2"/><path d="M1480.4 660.6H1487M1480.4 648.5V663.5" stroke="#222" stroke-width="1.2" fill="none"/><text x="1481.9" y="658.0" font-size="8.5" fill="#111" stroke="#111" stroke-width="0.3">1</text>
<rect x="1487.8" y="660.6" width="22.70" height="2.40" fill="#fff"/><path d="M1487.8 648.5H1510.5L1514.5 654.55L1510.5 660.6H1487.8Z" fill="#fff" stroke="#555" stroke-width="1.2"/><path d="M1487.8 660.6H1514.5M1487.8 648.5V663.5" stroke="#222" stroke-width="1.2" fill="none"/><text x="1489.3" y="658.0" font-size="8.5" fill="#111" stroke="#111" stroke-width="0.3">13:30</text>
<rect x="1523.3" y="660.6" width="21.30" height="2.40" fill="#fff"/><path d="M1523.3 648.5H1544.6L1548.6 654.55L1544.6 660.6H1523.3Z" fill="#fff" stroke="#555" stroke-width="1.2"/><path d="M1523.3 660.6H1548.6M1523.3 648.5V663.5" stroke="#222" stroke-width="1.2" fill="none"/><text x="1524.8" y="658.0" font-size="8.5" fill="#111" stroke="#111" stroke-width="0.3">15:50</text>
<path d="M0 1.5H1549" stroke="#111" stroke-width="1"/>
<path d="M1548.5 1V664" stroke="#555" stroke-width="1.4"/>
<path d="M0 663.5H1549.5" stroke="#333" stroke-width="1.3"/>
<path d="M1416 2L1422.5 2L1419.2 6.2Z" fill="#aaa"/>
<text x="1553.5" y="26.70" font-size="8.8" fill="#111" stroke="#111" stroke-width="0.15">25170.50</text>
<text x="1553.5" y="57.19" font-size="8.8" fill="#111" stroke="#111" stroke-width="0.15">25061.20</text>
<text x="1553.5" y="87.69" font-size="8.8" fill="#111" stroke="#111" stroke-width="0.15">24951.90</text>
<text x="1553.5" y="118.18" font-size="8.8" fill="#111" stroke="#111" stroke-width="0.15">24842.60</text>
<text x="1553.5" y="148.68" font-size="8.8" fill="#111" stroke="#111" stroke-width="0.15">24733.30</text>
<text x="1553.5" y="179.18" font-size="8.8" fill="#111" stroke="#111" stroke-width="0.15">24624.00</text>
<text x="1553.5" y="209.67" font-size="8.8" fill="#111" stroke="#111" stroke-width="0.15">24514.70</text>
<text x="1553.5" y="240.17" font-size="8.8" fill="#111" stroke="#111" stroke-width="0.15">24405.40</text>
<text x="1553.5" y="270.66" font-size="8.8" fill="#111" stroke="#111" stroke-width="0.15">24296.10</text>
<text x="1553.5" y="301.15" font-size="8.8" fill="#111" stroke="#111" stroke-width="0.15">24186.80</text>
<text x="1553.5" y="331.65" font-size="8.8" fill="#111" stroke="#111" stroke-width="0.15">24077.50</text>
<text x="1553.5" y="362.14" font-size="8.8" fill="#111" stroke="#111" stroke-width="0.15">23968.20</text>
<text x="1553.5" y="392.64" font-size="8.8" fill="#111" stroke="#111" stroke-width="0.15">23858.90</text>
<text x="1553.5" y="423.13" font-size="8.8" fill="#111" stroke="#111" stroke-width="0.15">23749.60</text>
<text x="1553.5" y="453.63" font-size="8.8" fill="#111" stroke="#111" stroke-width="0.15">23640.30</text>
<text x="1553.5" y="484.12" font-size="8.8" fill="#111" stroke="#111" stroke-width="0.15">23531.00</text>
<text x="1553.5" y="514.62" font-size="8.8" fill="#111" stroke="#111" stroke-width="0.15">23421.70</text>
<text x="1553.5" y="545.11" font-size="8.8" fill="#111" stroke="#111" stroke-width="0.15">23312.40</text>
<text x="1553.5" y="575.61" font-size="8.8" fill="#111" stroke="#111" stroke-width="0.15">23203.10</text>
<text x="1553.5" y="606.10" font-size="8.8" fill="#111" stroke="#111" stroke-width="0.15">23093.80</text>
<text x="1553.5" y="636.60" font-size="8.8" fill="#111" stroke="#111" stroke-width="0.15">22984.50</text>
<path d="M1549 23.40H1553M1549 53.89H1553M1549 84.39H1553M1549 114.88H1553M1549 145.38H1553M1549 175.88H1553M1549 206.37H1553M1549 236.87H1553M1549 267.36H1553M1549 297.85H1553M1549 328.35H1553M1549 358.84H1553M1549 389.34H1553M1549 419.83H1553M1549 450.33H1553M1549 480.82H1553M1549 511.32H1553M1549 541.81H1553M1549 572.31H1553M1549 602.80H1553M1549 633.30H1553" stroke="#222" stroke-width="1"/>
<rect x="1551" y="116.5" width="42.5" height="10" fill="#000"/>
<text x="1553.3" y="124.8" font-size="8.8" fill="#fff">24819.24</text>
<rect x="1551" y="144.5" width="42.5" height="10" fill="#000"/>
<text x="1553.3" y="152.8" font-size="8.8" fill="#fff">24717.81</text>
<rect x="1551" y="172.6" width="42.5" height="10" fill="#000"/>
<text x="1553.3" y="180.9" font-size="8.8" fill="#fff">24616.39</text>
<rect x="1551" y="208.1" width="42.5" height="10" fill="#000"/>
<text x="1553.3" y="216.4" font-size="8.8" fill="#fff">24489.98</text>
<rect x="1551" y="264.8" width="42.5" height="10" fill="#000"/>
<text x="1553.3" y="273.1" font-size="8.8" fill="#fff">24287.12</text>
<rect x="1551" y="286.0" width="42.5" height="10" fill="#000"/>
<text x="1553.3" y="294.3" font-size="8.8" fill="#fff">24210.69</text>
<rect x="1551" y="315.2" width="42.5" height="10" fill="#000"/>
<text x="1553.3" y="323.5" font-size="8.8" fill="#fff">24109.26</text>
<rect x="1551" y="342.5" width="42.5" height="10" fill="#000"/>
<text x="1553.3" y="350.8" font-size="8.8" fill="#fff">24007.84</text>
<rect x="1551" y="240" width="42.5" height="3" fill="#c8c0b8"/>
<rect x="1551" y="230" width="42.5" height="10" fill="#f0a040"/>
<text x="1553.3" y="238.3" font-size="8.8" fill="#fff">24413.54</text>
<text x="59.73" y="676" font-size="8.7" fill="#111" stroke="#111" stroke-width="0.15">30 Sep 11:00</text>
<text x="120.83" y="676" font-size="8.7" fill="#111" stroke="#111" stroke-width="0.15">30 Sep 15:00</text>
<text x="181.92" y="676" font-size="8.7" fill="#111" stroke="#111" stroke-width="0.15">30 Sep 19:00</text>
<text x="243.02" y="676" font-size="8.7" fill="#111" stroke="#111" stroke-width="0.15">30 Sep 23:00</text>
<text x="304.12" y="676" font-size="8.7" fill="#111" stroke="#111" stroke-width="0.15">1 Oct 04:00</text>
<text x="365.22" y="676" font-size="8.7" fill="#111" stroke="#111" stroke-width="0.15">1 Oct 08:00</text>
<text x="426.32" y="676" font-size="8.7" fill="#111" stroke="#111" stroke-width="0.15">1 Oct 12:00</text>
<text x="487.43" y="676" font-size="8.7" fill="#111" stroke="#111" stroke-width="0.15">1 Oct 16:00</text>
<text x="548.53" y="676" font-size="8.7" fill="#111" stroke="#111" stroke-width="0.15">1 Oct 20:00</text>
<text x="609.63" y="676" font-size="8.7" fill="#111" stroke="#111" stroke-width="0.15">2 Oct 01:00</text>
<text x="670.73" y="676" font-size="8.7" fill="#111" stroke="#111" stroke-width="0.15">2 Oct 05:00</text>
<text x="731.83" y="676" font-size="8.7" fill="#111" stroke="#111" stroke-width="0.15">2 Oct 09:00</text>
<text x="792.93" y="676" font-size="8.7" fill="#111" stroke="#111" stroke-width="0.15">2 Oct 13:00</text>
<text x="854.03" y="676" font-size="8.7" fill="#111" stroke="#111" stroke-width="0.15">2 Oct 17:00</text>
<text x="915.13" y="676" font-size="8.7" fill="#111" stroke="#111" stroke-width="0.15">2 Oct 21:00</text>
<text x="976.23" y="676" font-size="8.7" fill="#111" stroke="#111" stroke-width="0.15">3 Oct 02:00</text>
<text x="1037.33" y="676" font-size="8.7" fill="#111" stroke="#111" stroke-width="0.15">3 Oct 06:00</text>
<text x="1098.43" y="676" font-size="8.7" fill="#111" stroke="#111" stroke-width="0.15">3 Oct 10:00</text>
<text x="1159.53" y="676" font-size="8.7" fill="#111" stroke="#111" stroke-width="0.15">3 Oct 14:00</text>
<text x="1220.63" y="676" font-size="8.7" fill="#111" stroke="#111" stroke-width="0.15">3 Oct 18:00</text>
<text x="1281.73" y="676" font-size="8.7" fill="#111" stroke="#111" stroke-width="0.15">3 Oct 22:00</text>
<text x="1342.83" y="676" font-size="8.7" fill="#111" stroke="#111" stroke-width="0.15">6 Oct 04:00</text>
<text x="1403.93" y="676" font-size="8.7" fill="#111" stroke="#111" stroke-width="0.15">6 Oct 08:00</text>
<text x="-1.8" y="676" font-size="8.7" fill="#111" stroke="#111" stroke-width="0.15">30 Sep 2025</text>
<path d="M59.53 663.5V668M120.62 663.5V668M181.72 663.5V668M242.82 663.5V668M303.93 663.5V668M365.02 663.5V668M426.12 663.5V668M487.23 663.5V668M548.33 663.5V668M609.43 663.5V668M670.53 663.5V668M731.63 663.5V668M792.73 663.5V668M853.83 663.5V668M914.93 663.5V668M976.03 663.5V668M1037.12 663.5V668M1098.23 663.5V668M1159.33 663.5V668M1220.43 663.5V668M1281.53 663.5V668M1342.62 663.5V668M1403.73 663.5V668" stroke="#222" stroke-width="1"/>
<text x="42.7" y="15" font-size="9" style="white-space:pre" fill="#111" stroke="#111" stroke-width="0.15">DAXEUR, H1:  Germany 40 Index</text>
<text x="16.9" y="29.5" font-size="8.6" fill="#111" stroke="#111" stroke-width="0.15">Sardis Global</text>
<text x="7.9" y="39.8" font-size="8.9" fill="#111" stroke="#111" stroke-width="0.15">R&amp;D Department</text>
<rect x="3.6" y="7.2" width="6.6" height="8.9" fill="#fde8e8"/><rect x="10.2" y="7.2" width="6.1" height="8.9" fill="#e0f6fa"/>
<path d="M10 7.1H3.7V16.2H10" stroke="#9c6464" stroke-width="1.3" fill="none"/><path d="M10 7.1H16.3V16.2H10" stroke="#46687c" stroke-width="1.3" fill="none"/>
<path d="M5.2 9.3H9M5.2 11.8H9M5.2 14.5H9" stroke="#d07070" stroke-width="1.1"/><path d="M11 9.3H15M11 11.8H15M11 14.5H15" stroke="#3a7088" stroke-width="1.1"/>
<path d="M23.6 7.1H26.8L29.4 9.5V16.2H23.6Z" fill="#fde0d8" stroke="#9c6464" stroke-width="1.3"/>
<path d="M31 16.2V10.6L33.8 7.1H36.5V16.2Z" fill="#dceeff" stroke="#46687c" stroke-width="1.3"/>
</svg></body></html>
